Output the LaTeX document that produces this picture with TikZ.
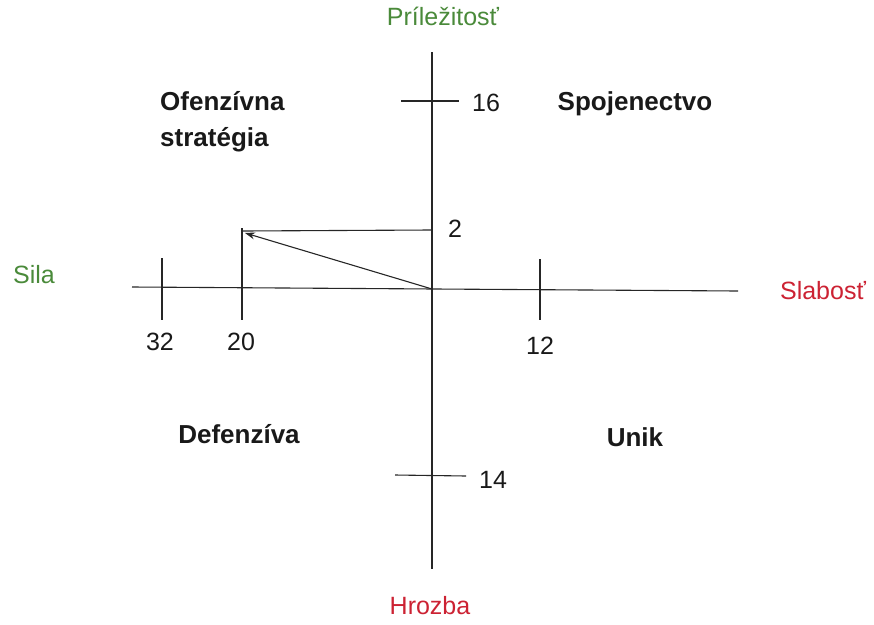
\documentclass[tikz,border=0pt]{standalone}
\usepackage{fontspec}
\setmainfont{Liberation Sans}
\usetikzlibrary{arrows.meta}
\definecolor{labgreen}{RGB}{74,138,58}
\definecolor{labred}{RGB}{204,34,51}
\tikzset{
  axis/.style={line width=1.1pt, draw=black!85},
  num/.style={font=\fontsize{25}{29}\selectfont, text=black!90, inner sep=0pt},
  pole/.style={font=\fontsize{25}{29}\selectfont, inner sep=0pt},
  quad/.style={font=\fontsize{26}{36}\selectfont\bfseries, text=black!90, inner sep=0pt},
}
\begin{document}
\begin{tikzpicture}[x=1pt,y=-1pt]
\useasboundingbox (0,0) rectangle (874,624);
% axes
\coordinate (vtop) at (432,52);
\coordinate (vbot) at (432,569);
\coordinate (hl) at (132,287);
\coordinate (hr) at (738,291);
\coordinate (o) at (432,289);
\draw[axis] (vtop) -- (vbot);
\draw[axis] (hl) -- (hr);
% ticks
\coordinate (t16a) at (401,101); \coordinate (t16b) at (459,101);
\coordinate (t14a) at (395,475); \coordinate (t14b) at (466,476);
\coordinate (t32a) at (162,258); \coordinate (t32b) at (162,320);
\coordinate (t20a) at (242,228); \coordinate (t20b) at (242,320);
\coordinate (t12a) at (540,259); \coordinate (t12b) at (540,320);
\draw[axis] (t16a) -- (t16b);
\draw[axis] (t14a) -- (t14b);
\draw[axis] (t32a) -- (t32b);
\draw[axis] (t20a) -- (t20b);
\draw[axis] (t12a) -- (t12b);
% result lines
\coordinate (p2) at (431,230);
\coordinate (pl) at (243,231);
\coordinate (tip) at (245,233);
\draw[axis] (pl) -- (p2);
\draw[axis, -{Stealth[length=10pt,width=7pt]}] (o) -- (tip);
% numbers
\node[num] (n16) at (486,103) {16};
\node[num] (n14) at (493,480) {14};
\node[num] (n32) at (160,342) {32};
\node[num] (n20) at (241,342) {20};
\node[num] (n12) at (540,346) {12};
\node[num] (n2) at (455,229) {2};
% poles
\node[pole, text=labgreen] (pr) at (443,16) {Príležitosť};
\node[pole, text=labgreen] (si) at (34,275) {Sila};
\node[pole, text=labred] (sl) at (823,291) {Slabosť};
\node[pole, text=labred] (hr2) at (430,606) {Hrozba};
% quadrants
\node[quad, align=left, anchor=north west] (of) at (160,91) {Ofenzívna\\stratégia};
\node[quad] (sp) at (635,104) {Spojenectvo};
\node[quad] (de) at (239,434) {Defenzíva};
\node[quad] (un) at (635,437) {Unik};
\end{tikzpicture}
\end{document}
